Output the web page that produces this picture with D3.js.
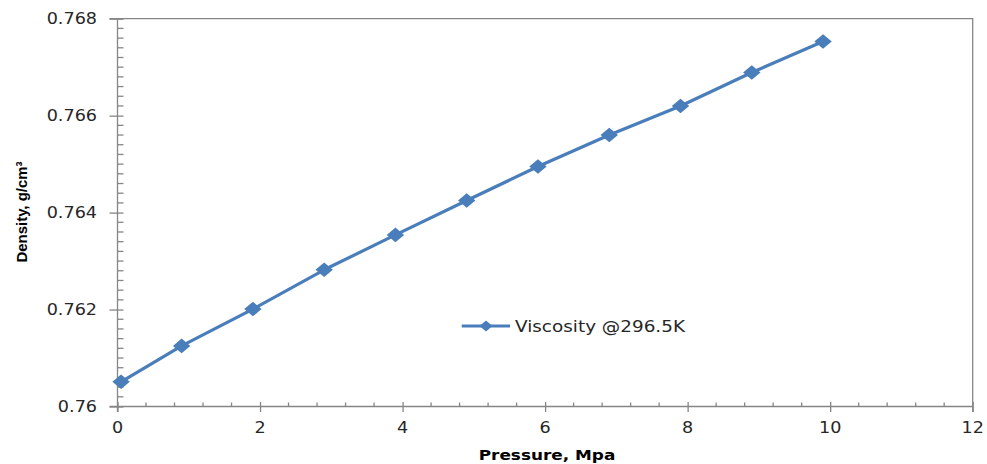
<!DOCTYPE html>
<html>
<head>
<meta charset="utf-8">
<script src="https://cdn.jsdelivr.net/npm/d3@7"></script>
<style>
  html, body { margin: 0; padding: 0; background: #ffffff; }
  svg { display: block; }
</style>
</head>
<body>
<svg id="chart" width="987" height="464"></svg>
<script>
// Pressure (MPa) and measured density (g/cm³)
const pressure = [0.05, 0.9, 1.9, 2.9, 3.9, 4.9, 5.9, 6.9, 7.9, 8.9, 9.9];
const density = [0.76051, 0.76125, 0.76201, 0.76282, 0.76354, 0.76425, 0.76495, 0.76560, 0.76620, 0.76689, 0.76753];
const seriesName = "Viscosity @296.5K";
const xTicks = [0, 2, 4, 6, 8, 10, 12];
const yTicks = [0.760, 0.762, 0.764, 0.766, 0.768];
const yTickLabels = ["0.76", "0.762", "0.764", "0.766", "0.768"];
const xTitle = "Pressure, Mpa";
const yTitle = "Density, g/cm³";

const svg = d3.select("#chart");
const plot = { left: 117.5, right: 972.7, top: 18.7, bottom: 406.5 };
const axisColor = "#868686";
const seriesColor = "#4a7ebb";
const textColor = "#262626";
const stretch = 1.15;

const x = d3.scaleLinear().domain([0, 12]).range([plot.left, plot.right]);
const y = d3.scaleLinear().domain([0.760, 0.768]).range([plot.bottom, plot.top]);

// plot frame: top and right edges
svg.append("path")
  .attr("d", `M${plot.left - 8},${plot.top}H${plot.right}V${plot.bottom + 5.5}`)
  .attr("fill", "none").attr("stroke", axisColor).attr("stroke-width", 1.3);

// minor ticks
const yMinor = d3.range(0, 41).map(i => 0.760 + i * 0.0002).filter((v, i) => i % 10 !== 0);
const xMinor = d3.range(0, 31).map(i => i * 0.4).filter((v, i) => i % 5 !== 0);

// y axis
const yAxis = svg.append("g").attr("transform", `translate(${plot.left},0)`)
  .call(d3.axisLeft(y).tickValues(yTicks).tickSize(0).tickFormat(""));
yAxis.select(".domain").attr("stroke", axisColor).attr("stroke-width", 1.3)
  .attr("d", `M0,${plot.top}V${plot.bottom + 5.5}`);
yAxis.selectAll(".tick line").attr("stroke", axisColor).attr("stroke-width", 1.3)
  .attr("x1", -8).attr("x2", 6);
yAxis.selectAll(".minor").data(yMinor).join("line")
  .attr("class", "minor")
  .attr("x1", 0).attr("x2", 6)
  .attr("y1", d => y(d)).attr("y2", d => y(d))
  .attr("stroke", axisColor).attr("stroke-width", 1.3);

// x axis
const xAxis = svg.append("g").attr("transform", `translate(0,${plot.bottom})`)
  .call(d3.axisBottom(x).tickValues(xTicks).tickSize(0).tickFormat(""));
xAxis.select(".domain").attr("stroke", axisColor).attr("stroke-width", 1.3)
  .attr("d", `M${plot.left - 8},0H${plot.right}`);
xAxis.selectAll(".tick line").attr("stroke", axisColor).attr("stroke-width", 1.3)
  .attr("y1", -4.5).attr("y2", 5.5);
xAxis.selectAll(".minor").data(xMinor).join("line")
  .attr("class", "minor")
  .attr("y1", 0).attr("y2", -4)
  .attr("x1", d => x(d)).attr("x2", d => x(d))
  .attr("stroke", axisColor).attr("stroke-width", 1.3);

// text helper with the slightly wide lettering of the chart
function label(parent, str, px, py, opts) {
  const t = parent.append("text")
    .attr("transform", `translate(${px},${py}) scale(${opts.sx ?? stretch},1)`)
    .attr("text-anchor", opts.anchor || "start")
    .attr("font-family", opts.family || "'DejaVu Sans', Verdana, sans-serif")
    .attr("font-size", opts.size || 15)
    .attr("font-weight", opts.weight || "normal")
    .attr("fill", opts.fill || textColor)
    .text(str);
  return t;
}

// y tick labels
yTicks.forEach((v, i) => {
  label(svg, yTickLabels[i], 97, y(v) + 5.5, { anchor: "end", size: 15.3 });
});
// x tick labels
xTicks.forEach(v => {
  label(svg, String(v), x(v), 433.3, { anchor: "middle", size: 15.3 });
});

// axis titles
label(svg, xTitle, 547, 460, { anchor: "middle", size: 14.7, weight: "bold", fill: "#000" });
svg.append("text")
  .attr("transform", "translate(27,212) rotate(-90)")
  .attr("text-anchor", "middle")
  .attr("font-family", "'Liberation Sans', Arial, sans-serif")
  .attr("font-size", 15.5)
  .attr("font-weight", "bold")
  .attr("fill", "#000")
  .attr("textLength", 101)
  .attr("lengthAdjust", "spacingAndGlyphs")
  .text(yTitle);

// series line and diamond markers
const data = pressure.map((p, i) => ({ p, d: density[i] }));
const line = d3.line().x(d => x(d.p)).y(d => y(d.d));
svg.append("path").datum(data)
  .attr("d", line)
  .attr("fill", "none")
  .attr("stroke", seriesColor)
  .attr("stroke-width", 3.2)
  .attr("stroke-linejoin", "round");

const diamond = "M0,-7.3L8.7,0L0,7.3L-8.7,0Z";
svg.selectAll(".marker").data(data).join("path")
  .attr("class", "marker")
  .attr("transform", d => `translate(${x(d.p)},${y(d.d)})`)
  .attr("d", diamond)
  .attr("fill", seriesColor);

// legend
const legend = svg.append("g");
legend.append("line")
  .attr("x1", 461.7).attr("x2", 510).attr("y1", 326).attr("y2", 326)
  .attr("stroke", seriesColor).attr("stroke-width", 3.2);
legend.append("path")
  .attr("transform", "translate(486,326)")
  .attr("d", "M0,-5.5L6.5,0L0,5.5L-6.5,0Z")
  .attr("fill", seriesColor);
label(legend, seriesName, 515, 332, { size: 16 });
</script>
</body>
</html>
